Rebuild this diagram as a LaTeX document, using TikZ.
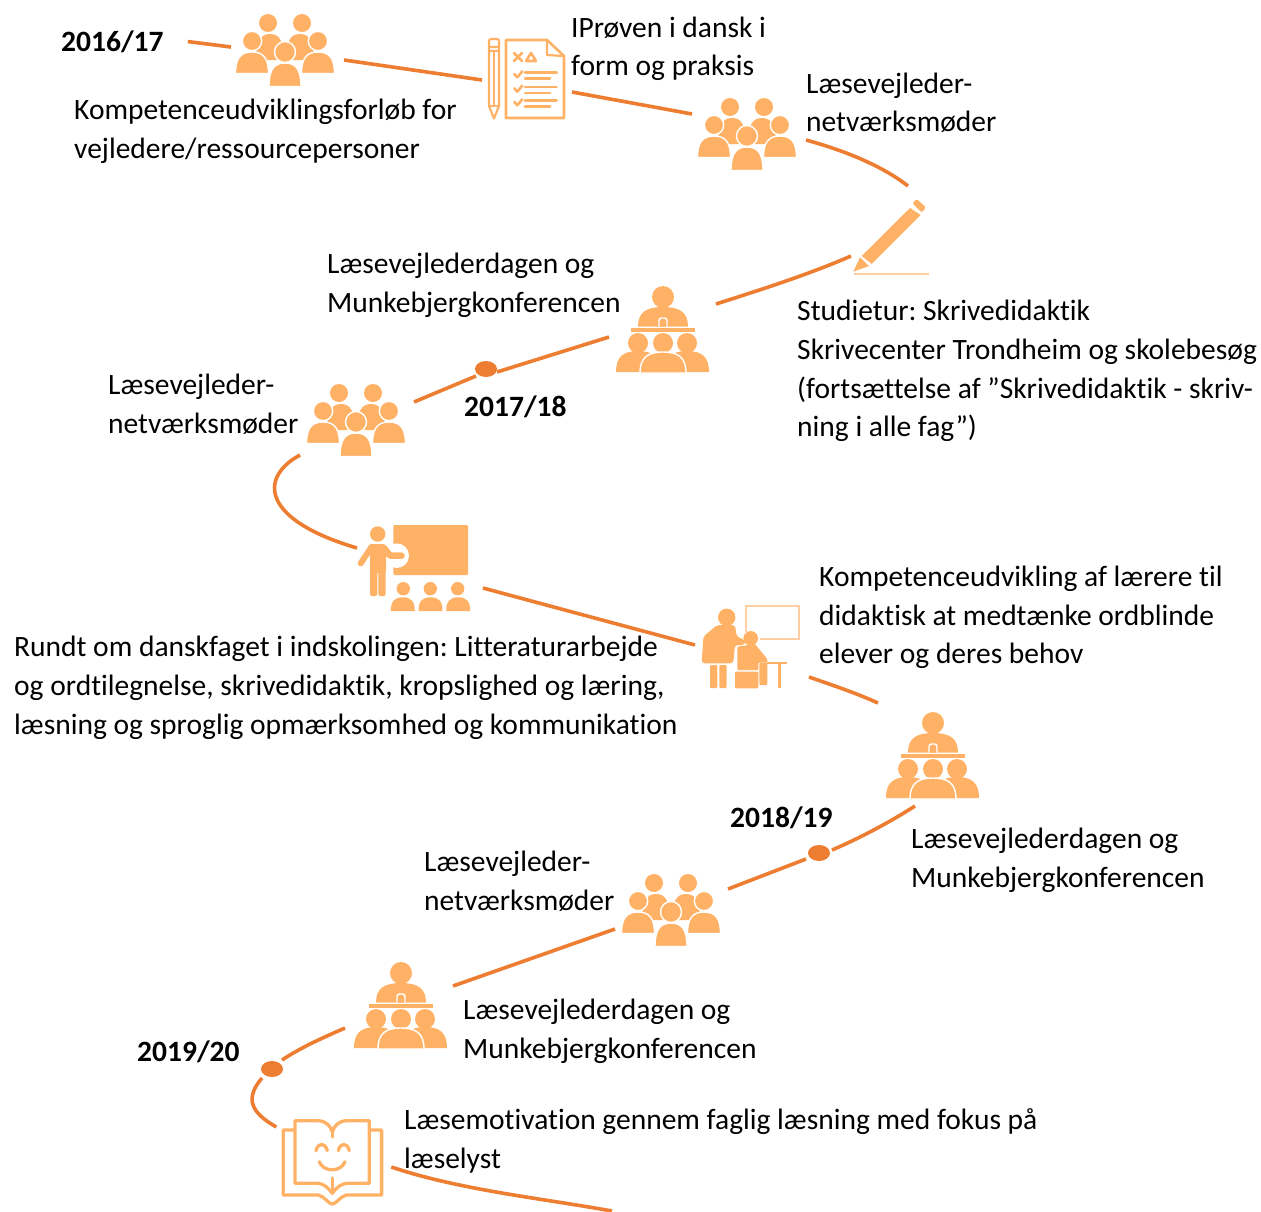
\documentclass[tikz,border=0pt]{standalone}
\usepackage{fontspec}
\setmainfont{Carlito}[Ligatures=CommonOff]
\usetikzlibrary{shapes.geometric}
\definecolor{iconf}{HTML}{FFB266}
\definecolor{iconl}{HTML}{FFCFA3}
\definecolor{conn}{HTML}{ED7D31}
\newcommand{\icondome}[4]{({#1-(#2)},#4) .. controls ({#1-(#2)},{#4-0.72*(#4-(#3))}) and ({#1-0.68*(#2)},#3) .. (#1,#3) .. controls ({#1+0.68*(#2)},#3) and ({#1+(#2)},{#4-0.72*(#4-(#3))}) .. ({#1+(#2)},#4) -- cycle}
\tikzset{
  x=1pt,y=-1pt,
  connline/.style={draw=conn,line width=3.6pt},
  iconbox/.style={draw=none,fill=none,inner sep=0pt,minimum width=90pt,minimum height=70pt},
  dotnode/.style={ellipse,fill=conn,draw=none,inner sep=0pt,minimum width=22pt,minimum height=16pt},
  txt/.style={anchor=north west,inner sep=0pt,align=left,font=\frenchspacing\fontsize{29.5}{38.7}\selectfont,text=black},
  yearlabel/.style={txt,font=\fontsize{29.5}{38.7}\selectfont\bfseries},
  solidi/.style={fill=iconf,draw=none},
  ringi/.style={fill=iconf,draw=white,line width=1.4pt},
  linei/.style={draw=iconf,line width=2.6pt,line cap=round,line join=round,fill=none},
  pics/grp/.style={code={
    \fill[solidi] (-17,-27) circle[radius=9];
    \fill[solidi] (17,-27) circle[radius=9];
    \fill[solidi] \icondome{-15}{14}{-16}{10};
    \fill[solidi] \icondome{15}{14}{-16}{10};
    \filldraw[ringi] (-33,-9) circle[radius=9.7];
    \filldraw[ringi] (33,-9) circle[radius=9.7];
    \filldraw[ringi] \icondome{-33}{16.5}{2}{23.5};
    \filldraw[ringi] \icondome{33}{16.5}{2}{23.5};
    \filldraw[ringi] (0,2) circle[radius=10.5];
    \filldraw[ringi] \icondome{0}{16}{13}{36.5};
  }},
  pics/lect/.style={code={
    \fill[solidi] (0,-33) circle[radius=11];
    \fill[solidi] \icondome{0}{25}{-23}{-3.5};
    \draw[white,line width=1.4pt,fill=iconf,rounded corners=2.5pt] (-4,-3.5) -- (-4,-12) -- (4,-12) -- (4,-3.5);
    \fill[solidi] (-32,-2.2) rectangle (32,1.6);
    \fill[solidi] (-25,13) circle[radius=10];
    \fill[solidi] (24,13) circle[radius=10];
    \fill[solidi] (0,13) circle[radius=10];
    \fill[solidi] \icondome{-25}{22}{21}{42};
    \fill[solidi] \icondome{24}{22}{21}{42};
    \filldraw[ringi] \icondome{0}{23}{22}{43};
  }},
  pics/docicon/.style={code={
    \draw[linei] (-21,-40) -- (20,-40) -- (37,-24) -- (37,38) -- (-21,38) -- cycle;
    \draw[linei,line width=2.2pt] (20,-40) -- (20,-25) -- (37,-24);
    \draw[linei] (-13,-27) -- (-5,-19) (-5,-27) -- (-13,-19);
    \draw[linei] (-1,-19) -- (9,-19) -- (4,-27) -- cycle;
    \foreach \d in {0,14.3,28}{
      \draw[linei] (-12.7,-6+\d) -- (-9.7,-2.7+\d) -- (-4.7,-8.7+\d);
      \draw[linei] (-2,-7.3+\d) -- (29.7,-7.3+\d);
      \draw[linei] (-2,-1.5+\d) -- (23,-1.5+\d);
    }
    \draw[linei,line width=2.2pt,rounded corners=2pt] (-38,-29) -- (-38,-41) -- (-28,-41) -- (-28,-29);
    \draw[linei,line width=2.2pt] (-38,-33) -- (-28,-33) (-38,-29) -- (-28,-29) -- (-28,26) -- (-33,38.5) -- (-38,26) -- cycle;
    \draw[linei,line width=2.2pt] (-33,-27) -- (-33,26) (-38,26) -- (-28,26);
  }},
  pics/penicon/.style={code={
    \fill[solidi] (-29.3,20) -- (19,-28) -- (29.7,-21) -- (-19.3,28) -- cycle;
    \fill[solidi,rounded corners=1.5pt] (21.3,-32.7) -- (25.7,-37) -- (35,-28.7) -- (30.7,-23.3) -- cycle;
    \fill[solidi] (-37.7,35.7) -- (-31,21.3) -- (-22,30) -- cycle;
    \fill[iconl] (-37,36.8) rectangle (38,38.6);
  }},
  pics/teachicon/.style={code={
    \fill[solidi,rounded corners=1pt] (-36.7,-43) rectangle (38,7);
    \fill[white] (-33.3,-12.3) circle[radius=12.3];
    \fill[solidi] (-52.3,-34) circle[radius=7.7];
    \fill[solidi,rounded corners=3pt] (-60,-24) rectangle (-44,5);
    \fill[solidi,rounded corners=2pt] (-60,0) rectangle (-52.7,28);
    \fill[solidi,rounded corners=2pt] (-51.7,0) rectangle (-44.3,28);
    \draw[iconf,line width=6pt,line cap=round] (-58.3,-21.3) -- (-69.3,-4.7);
    \draw[iconf,line width=6.5pt,line cap=round,line join=round] (-46,-20) -- (-40,-12.5) -- (-28.5,-12.3);
    \foreach \c in {-26.7,0.3,27.7}{
      \fill[solidi] (\c,20.7) circle[radius=6.7];
    }
    \fill[solidi] \icondome{-27.2}{12}{29.3}{43};
    \fill[solidi] \icondome{0.5}{12}{29.3}{43};
    \fill[solidi] \icondome{28.2}{12}{29.3}{43};
  }},
  pics/tutoricon/.style={code={
    \draw[iconl,line width=2pt] (-4.3,-15) -- (-4.3,-41.3) -- (49.3,-41.3) -- (49.3,-8) -- (10,-8);
    \fill[solidi] (-23.3,-29.7) circle[radius=8.7];
    \fill[solidi,rounded corners=3pt] (-33,-22) -- (-46.7,-10.3) -- (-48.3,16.3) -- (-16.7,16.3) -- (-15,-2) -- (-5,-2) -- (-5,-7) -- (-13.3,-10.3) -- (-15,-22) -- cycle;
    \fill[solidi,rounded corners=1pt] (-40,18) rectangle (-32.7,41);
    \fill[solidi,rounded corners=1pt] (-30.7,18) rectangle (-23.3,41);
    \fill[solidi] (0.7,-8.7) circle[radius=7.3];
    \fill[solidi,rounded corners=1pt] (-12.7,-0.3) -- (5,-3) -- (17.3,12) -- (17.3,15.7) -- (8.3,15.7) -- (8.3,23) -- (-12.7,23) -- cycle;
    \fill[solidi,rounded corners=1pt] (9.3,16) rectangle (17.3,38);
    \fill[solidi,rounded corners=1pt] (-15,24.7) rectangle (8.3,41.3);
    \fill[solidi] (16.7,14.7) rectangle (36.7,17);
    \fill[solidi] (28.3,17) rectangle (30.7,41);
  }},
  pics/bookicon/.style={code={
    \draw[linei,line width=3.3pt] (-37.3,-39.3) -- (-14,-39.3) .. controls (-6,-39) and (-2,-34) .. (0,-28.3) .. controls (2,-34) and (6,-39) .. (14.3,-39.3) -- (37,-39.3) -- (37,23.3) -- (14.3,23.3) .. controls (8,24) and (4,28) .. (0,33.3) .. controls (-4,28) and (-8,24) .. (-14,23.3) -- (-37.3,23.3) -- cycle;
    \draw[linei,line width=3.3pt] (-37.3,-30) -- (-49,-30) -- (-49,35) -- (-14,35) .. controls (-8,36) and (-4,44) .. (0,44) .. controls (4,44) and (8,36) .. (14.3,35) -- (49.3,35) -- (49.3,-30) -- (37,-30);
    \draw[linei,line width=3.3pt] (0,-28.3) -- (0,-23) (0,18) -- (0,33.3);
    \draw[linei,line width=3.3pt] (-16.3,-9.3) .. controls (-14.5,-17.7) and (-6.8,-17.7) .. (-5,-9.3);
    \draw[linei,line width=3.3pt] (6,-9.3) .. controls (7.8,-17.7) and (15.2,-17.7) .. (17,-9.3);
    \draw[linei,line width=3.3pt] (-13,1.7) .. controls (-9,12.5) and (8.7,12.5) .. (12.7,1.7);
  }},
}
\begin{document}
\begin{tikzpicture}
\useasboundingbox (0,0) rectangle (1261,1211);
% icons
\node[iconbox] (g1) at (285,50) {};
\pic at (g1) {grp};
\node[iconbox] (doc) at (527,80) {};
\pic at (doc) {docicon};
\node[iconbox] (g2) at (747,134) {};
\pic at (g2) {grp};
\node[iconbox] (pen) at (891,236) {};
\pic at (pen) {penicon};
\node[iconbox] (lect1) at (663,330) {};
\pic at (lect1) {lect};
\node[iconbox] (g3) at (356,420) {};
\pic at (g3) {grp};
\node[iconbox] (teach) at (430,568) {};
\pic at (teach) {teachicon};
\node[iconbox] (tutor) at (750,647) {};
\pic at (tutor) {tutoricon};
\node[iconbox] (lect2) at (933,756) {};
\pic at (lect2) {lect};
\node[iconbox] (g4) at (671,910) {};
\pic at (g4) {grp};
\node[iconbox] (lect3) at (401,1006) {};
\pic at (lect3) {lect};
\node[iconbox] (book) at (332.3,1160) {};
\pic at (book) {bookicon};
% dots
\node[dotnode] (d1) at (486,369) {};
\node[dotnode] (d2) at (819,853) {};
\node[dotnode] (d3) at (272,1069) {};
\coordinate (pathend) at (612,1211);
% texts
\node[yearlabel] (y16) at (61,24.5) {\strut 2016/17};
\node[txt] (t1) at (74,92.5) {\strut Kompetenceudviklingsforløb for\\vejledere/ressourcepersoner};
\node[txt] (t2) at (571,10) {\strut IPrøven i dansk i\\form og praksis};
\node[txt] (t3) at (806,66) {\strut Læsevejleder-\\netværksmøder};
\node[txt] (t4) at (327,246.5) {\strut Læsevejlederdagen og\\Munkebjergkonferencen};
\node[txt] (t5) at (797,293.5) {\strut Studietur: Skrivedidaktik\\Skrivecenter Trondheim og skolebesøg\\(fortsættelse af ”Skrivedidaktik - skriv-\\ning i alle fag”)};
\node[txt] (t6) at (108,367.5) {\strut Læsevejleder-\\netværksmøder};
\node[yearlabel] (y17) at (464,389.5) {\strut 2017/18};
\node[txt] (t7) at (14,629.5) {\strut Rundt om danskfaget i indskolingen: Litteraturarbejde\\og ordtilegnelse, skrivedidaktik, kropslighed og læring,\\læsning og sproglig opmærksomhed og kommunikation};
\node[txt] (t8) at (819,559) {\strut Kompetenceudvikling af lærere til\\didaktisk at medtænke ordblinde\\elever og deres behov};
\node[yearlabel] (y18) at (730,800.5) {\strut 2018/19};
\node[txt] (t9) at (911,821.5) {\strut Læsevejlederdagen og\\Munkebjergkonferencen};
\node[txt] (t10) at (424,844.5) {\strut Læsevejleder-\\netværksmøder};
\node[txt] (t11) at (463,992.5) {\strut Læsevejlederdagen og\\Munkebjergkonferencen};
\node[yearlabel] (y19) at (137,1034.5) {\strut 2019/20};
\node[txt] (t12) at (404,1102.5) {\strut Læsemotivation gennem faglig læsning med fokus på\\læselyst};
% connectors
\draw[connline] ([shift={(24,-2.5)}]y16.east) -- ([shift={(-54,-3)}]g1.center);
\draw[connline] ([shift={(59,10)}]g1.center) -- ([shift={(-45,0)}]doc.center);
\draw[connline] ([shift={(45,12)}]doc.center) -- ([shift={(-55,-20)}]g2.center);
\draw[connline] ([shift={(59,6)}]g2.center) .. controls (850,152) and (885,168) .. ([shift={(17,-50)}]pen.center);
\draw[connline] ([shift={(-40,20)}]pen.center) .. controls (810,274) and (760,290) .. ([shift={(53,-26)}]lect1.center);
\draw[connline] ([shift={(-54,7)}]lect1.center) -- ([shift={(11,3)}]d1.center);
\draw[connline] ([shift={(-10,7)}]d1.center) -- ([shift={(58,-18)}]g3.center);
\draw[connline] ([shift={(-56,35)}]g3.center) .. controls (258,478) and (262,520) .. ([shift={(-73,-20)}]teach.center);
\draw[connline] ([shift={(53,20)}]teach.center) -- ([shift={(-55,-2)}]tutor.center);
\draw[connline] ([shift={(59,30)}]tutor.center) .. controls (832,685) and (856,693) .. ([shift={(-55,-53)}]lect2.center);
\draw[connline] ([shift={(-18,50)}]lect2.center) .. controls (890,822) and (860,838) .. ([shift={(13,-3)}]d2.center);
\draw[connline] ([shift={(-13,6)}]d2.center) -- ([shift={(57,-21)}]g4.center);
\draw[connline] ([shift={(-56,19)}]g4.center) -- ([shift={(52,-20)}]lect3.center);
\draw[connline] ([shift={(-56,22)}]lect3.center) .. controls (322,1038) and (300,1048) .. ([shift={(10,-9)}]d3.center);
\draw[connline] ([shift={(-10,9)}]d3.center) .. controls (245,1098) and (250,1112) .. ([shift={(-56,-33)}]book.center);
\draw[connline] ([shift={(59,7)}]book.center) .. controls (460,1190) and (540,1198) .. (pathend);
\end{tikzpicture}
\end{document}
